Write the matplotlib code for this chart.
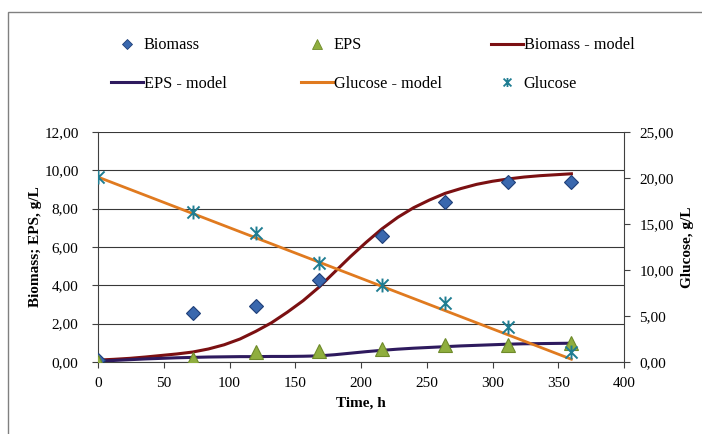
import matplotlib
matplotlib.use("Agg")
import matplotlib.pyplot as plt
from matplotlib.patches import Rectangle
from matplotlib.path import Path
from matplotlib.lines import Line2D
from matplotlib.ticker import FuncFormatter, MultipleLocator

plt.rcParams['font.family'] = ['Liberation Serif', 'DejaVu Serif']

# measured data
t_meas = [0, 72, 120, 168, 216, 264, 312, 360]
biomass = [0.10, 2.55, 2.90, 4.30, 6.60, 8.35, 9.40, 9.40]
eps = [0.00, 0.15, 0.50, 0.60, 0.70, 0.90, 0.90, 1.00]
glucose = [20.1, 16.3, 14.0, 10.8, 8.4, 6.4, 3.8, 1.1]

# model curves
t_model = [0, 12, 24, 36, 48, 60, 72, 84, 96, 108, 120, 132, 144, 156, 168, 180,
           192, 204, 216, 228, 240, 252, 264, 276, 288, 300, 312, 324, 336, 348, 360]
biomass_model = [0.10, 0.14, 0.19, 0.26, 0.34, 0.42, 0.52, 0.68, 0.90, 1.20, 1.60, 2.05,
                 2.60, 3.20, 3.90, 4.70, 5.50, 6.25, 6.95, 7.55, 8.05, 8.45, 8.80, 9.05,
                 9.27, 9.43, 9.55, 9.65, 9.72, 9.77, 9.82]
eps_model = [0.04, 0.08, 0.12, 0.16, 0.19, 0.22, 0.24, 0.26, 0.27, 0.28, 0.28, 0.29,
             0.29, 0.30, 0.32, 0.38, 0.46, 0.54, 0.61, 0.67, 0.72, 0.76, 0.80, 0.84,
             0.87, 0.90, 0.93, 0.95, 0.96, 0.97, 0.98]
glucose_model = [20.1, 19.44, 18.78, 18.12, 17.46, 16.8, 16.14, 15.48, 14.82, 14.16,
                 13.5, 12.84, 12.18, 11.52, 10.86, 10.2, 9.54, 8.88, 8.22, 7.56, 6.9,
                 6.24, 5.58, 4.92, 4.26, 3.6, 2.94, 2.28, 1.62, 0.96, 0.3]

fig = plt.figure(figsize=(7.02, 4.34), dpi=100)
fig.patches.append(Rectangle((8/702, -0.1), 1.2, 1 - 12/434 + 0.1, transform=fig.transFigure,
                             fill=False, edgecolor='#808080', linewidth=1.0))

ax = fig.add_axes([98/702, 1 - 362/434, 526/702, 230/434])
ax2 = ax.twinx()

fmt = FuncFormatter(lambda v, p: f"{v:.2f}".replace('.', ','))

ax.set_xlim(0, 400)
ax.set_ylim(0, 12)
ax2.set_ylim(0, 25)
ax.xaxis.set_major_locator(MultipleLocator(50))
ax.yaxis.set_major_locator(MultipleLocator(2))
ax2.yaxis.set_major_locator(MultipleLocator(5))
ax.yaxis.set_major_formatter(fmt)
ax2.yaxis.set_major_formatter(fmt)

ax.grid(axis='y', color='#383838', linewidth=0.8)
ax.set_axisbelow(True)
for a in (ax, ax2):
    a.spines['top'].set_visible(False)
    for s in ('left', 'right', 'bottom'):
        a.spines[s].set_color('#404040')
    a.tick_params(labelsize=11, colors='#000000', length=4, width=0.8)
    a.tick_params(axis='both', color='#404040')
ax.tick_params(axis='x', pad=7)
ax.tick_params(axis='y', pad=10)
ax2.tick_params(axis='y', pad=7)
ax.spines['right'].set_visible(False)
ax2.spines['left'].set_visible(False)
ax2.spines['bottom'].set_visible(False)

star = Path([(-1, -1), (1, 1), (-1, 1), (1, -1), (0, -1.15), (0, 1.15)],
            [Path.MOVETO, Path.LINETO, Path.MOVETO, Path.LINETO, Path.MOVETO, Path.LINETO])

c_bio, c_bio_e = '#3A68AE', '#1F3F78'
c_eps, c_eps_e = '#8FAE3E', '#6E8A2A'
c_bm, c_em, c_gm, c_g = '#7B1012', '#2E1A5E', '#E07A1F', '#1F7D92'

ax.plot(t_model, biomass_model, color=c_bm, linewidth=2.2, zorder=3)
ax.plot(t_model, eps_model, color=c_em, linewidth=2.2, zorder=3)
ax2.plot(t_model, glucose_model, color=c_gm, linewidth=2.0, zorder=3)
ax.plot(t_meas, biomass, linestyle='none', marker='D', markersize=7.5, color=c_bio,
        markeredgecolor=c_bio_e, markeredgewidth=0.8, zorder=4)
ax.plot(t_meas, eps, linestyle='none', marker='^', markersize=9.5, color=c_eps,
        markeredgecolor=c_eps_e, markeredgewidth=0.8, zorder=4)
ax2.plot(t_meas, glucose, linestyle='none', marker=star, markersize=10, color=c_g,
         markeredgewidth=1.4, zorder=5)

ax.set_xlabel('Time, h', fontsize=11, fontweight='bold', va='center')
ax.set_ylabel('Biomass; EPS, g/L', fontsize=11, fontweight='bold', va='center')
ax2.set_ylabel('Glucose, g/L', fontsize=11, fontweight='bold', va='center')
ax.xaxis.set_label_coords((360 - 98) / 526 * 0 + 0.5, (362 - 403) / 230)
ax.yaxis.set_label_coords((35 - 98) / 526, 0.5)
ax2.yaxis.set_label_coords((688 - 98) / 526, 0.5)

# legend proxies
h_bio = Line2D([], [], linestyle='none', marker='D', markersize=5.5, color=c_bio,
               markeredgecolor=c_bio_e, markeredgewidth=0.6)
h_eps = Line2D([], [], linestyle='none', marker='^', markersize=7, color=c_eps,
               markeredgecolor=c_eps_e, markeredgewidth=0.6)
h_bm = Line2D([], [], color=c_bm, linewidth=2.2)
h_em = Line2D([], [], color=c_em, linewidth=2.2)
h_gm = Line2D([], [], color=c_gm, linewidth=2.2)
h_g = Line2D([], [], linestyle='none', marker=star, markersize=6.5, color=c_g, markeredgewidth=1.3)

cols = [([h_bio, h_em], ['Biomass', 'EPS - model'], 111),
        ([h_eps, h_gm], ['EPS', 'Glucose - model'], 301),
        ([h_bm, h_g], ['Biomass - model', 'Glucose'], 491)]
for hs, ls, x0 in cols:
    lg = fig.legend(hs, ls, loc='center left', bbox_to_anchor=(x0/702, 1 - 64.5/434),
                    frameon=False, fontsize=11.7, handlelength=1.95, handletextpad=0.05,
                    labelspacing=1.38, borderpad=0, borderaxespad=0)

fig.savefig('out.png', dpi=100)
